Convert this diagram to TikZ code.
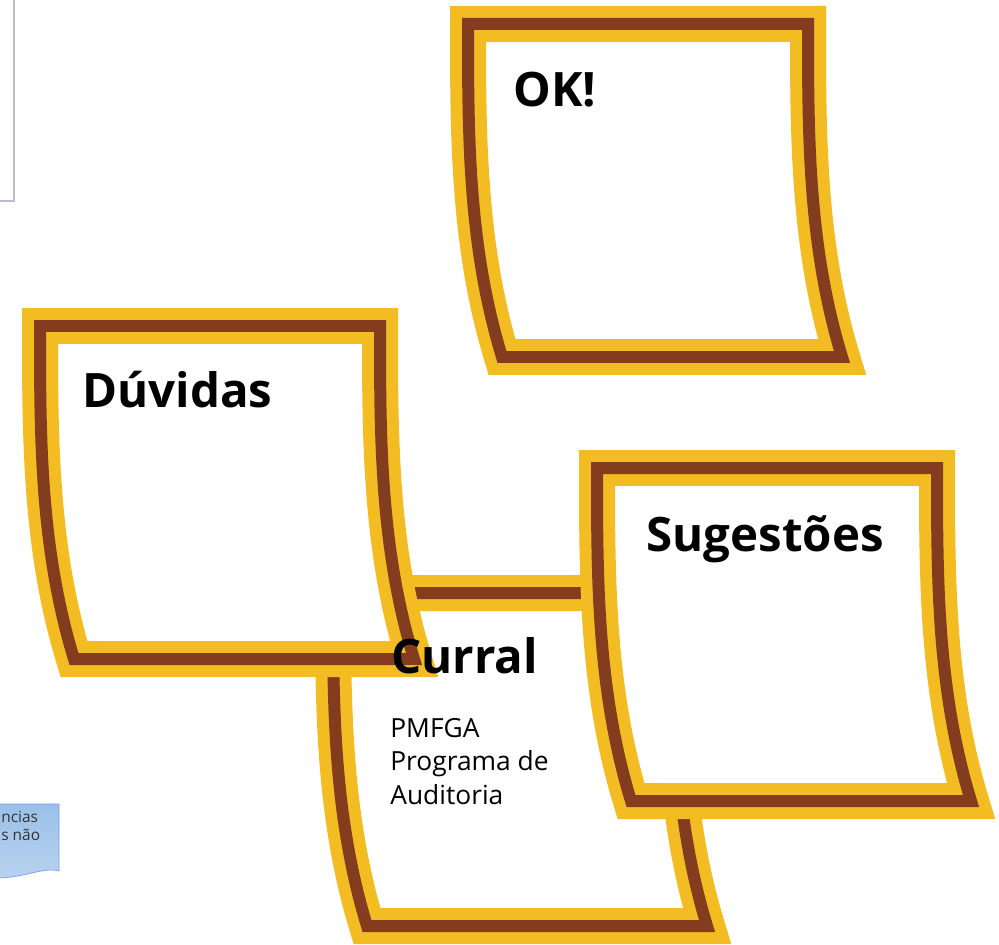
\documentclass[tikz,border=0pt]{standalone}
\usepackage{fontspec}
\setmainfont{Open Sans}
\usetikzlibrary{positioning}
\definecolor{notagold}{RGB}{243,188,35}
\definecolor{notabrown}{RGB}{132,60,30}
\definecolor{caixaazul}{RGB}{155,192,232}
\begin{document}
\begin{tikzpicture}[x=0.02cm,y=-0.02cm,
  nota/.pic={
    \draw[notabrown,line width=.24cm,line join=miter,
      preaction={fill=white,draw=notagold,line width=.72cm}]
      (0,0) -- (340,0) .. controls (340,111) and (340,222) .. (374,333)
      -- (34,333) .. controls (0,222) and (0,111) .. (0,0) -- cycle;
  },
  titulo/.style={anchor=base west,inner sep=0pt,font=\fontsize{27}{32}\selectfont\bfseries},
  corpo/.style={anchor=base west,inner sep=0pt,align=left,font=\fontsize{15}{19}\selectfont}]

\useasboundingbox (0,0) rectangle (999,945);

\draw[draw=blue!20!gray!45,line width=1pt,fill=white] (-20,-20) rectangle (14,201);

\shade[top color=caixaazul,bottom color=caixaazul!70!white,draw=caixaazul!80!blue]
  (-20,804) -- (59,804) -- (59,871) .. controls (40,866) and (20,882) .. (-20,877) -- cycle;
\node[anchor=base west,inner sep=0pt,align=left,text=black!80,
  font=\fontsize{8.8}{10}\selectfont] (resto) at (1,840) {ncias\\s não};

\pic at (468,24) {nota};
\pic at (333,593) {nota};
\pic at (40,326) {nota};
\pic at (597,468) {nota};

\node[titulo] (ok) at (513,107) {OK!};
\node[titulo] (duvidas) at (82,407) {Dúvidas};
\node[titulo] (sugestoes) at (646,551) {Sugestões};
\node[titulo] (curral) at (391,673) {Curral};
\node[corpo] (pmfga) at (390,804) {PMFGA\\Programa de\\Auditoria};

\end{tikzpicture}
\end{document}
